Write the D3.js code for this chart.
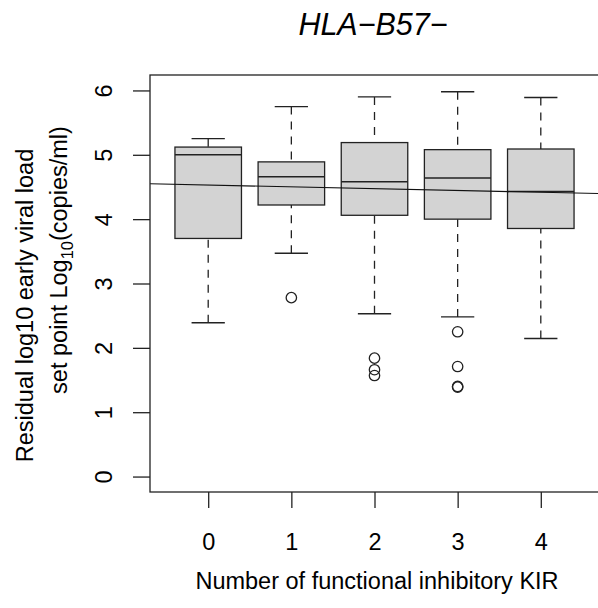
<!DOCTYPE html>
<html>
<head>
<meta charset="utf-8">
<script src="https://cdn.jsdelivr.net/npm/d3@7"></script>
<style>
  html, body { margin: 0; padding: 0; background: #fff; }
  svg { display: block; font-family: "Liberation Sans", Arial, Helvetica, sans-serif; }
</style>
</head>
<body>
<svg id="chart" width="598" height="608"></svg>
<script>
// ---- data ----
const categories = [0, 1, 2, 3, 4];
const whiskerLow  = [2.39, 3.47, 2.53, 2.48, 2.145];
const q1          = [3.70, 4.22, 4.06, 4.00, 3.855];
const medians     = [5.00, 4.66, 4.58, 4.64, 4.43];
const q3          = [5.12, 4.89, 5.19, 5.08, 5.09];
const whiskerHigh = [5.25, 5.75, 5.90, 5.98, 5.89];
const outliers    = [[], [2.78], [1.84, 1.66, 1.57], [2.25, 1.71, 1.40, 1.39], []];
const fitIntercept = 4.53;
const fitSlope = -0.028;
const yTicks = [0, 1, 2, 3, 4, 5, 6];
const titleText = "HLA\u2212B57\u2212";
const xLabel = "Number of functional inhibitory KIR";
const yLabel1 = "Residual log10 early viral load";

// ---- layout ----
const svg = d3.select("#chart");
const L = 150, R = 599, T = 75, B = 492;
const x = d3.scaleLinear().domain([-0.7, 4.7]).range([L, R]);
const y = d3.scaleLinear().domain([-0.24, 6.24]).range([B, T]);
const ink = "#222";
const fs = 23.5;

svg.append("defs").append("clipPath").attr("id", "plotclip")
  .append("rect").attr("x", L).attr("y", T).attr("width", R - L).attr("height", B - T);

const boxes = categories.map((c, i) => ({
  c, lo: whiskerLow[i], q1: q1[i], med: medians[i], q3: q3[i], hi: whiskerHigh[i], out: outliers[i]
}));

const g = svg.append("g");
const bw = 0.4, cw = 0.2;

// whiskers (dashed), from whisker end to hinge
g.selectAll(".wl").data(boxes).join("line")
  .attr("x1", d => x(d.c)).attr("x2", d => x(d.c))
  .attr("y1", d => y(d.lo)).attr("y2", d => y(d.q1))
  .attr("stroke", ink).attr("stroke-width", 1.3).attr("stroke-dasharray", "8,7");
g.selectAll(".wh").data(boxes).join("line")
  .attr("x1", d => x(d.c)).attr("x2", d => x(d.c))
  .attr("y1", d => y(d.hi)).attr("y2", d => y(d.q3))
  .attr("stroke", ink).attr("stroke-width", 1.3).attr("stroke-dasharray", "8,7");
// caps
g.selectAll(".cl").data(boxes).join("line")
  .attr("x1", d => x(d.c - cw)).attr("x2", d => x(d.c + cw))
  .attr("y1", d => y(d.lo)).attr("y2", d => y(d.lo))
  .attr("stroke", ink).attr("stroke-width", 1.3);
g.selectAll(".ch").data(boxes).join("line")
  .attr("x1", d => x(d.c - cw)).attr("x2", d => x(d.c + cw))
  .attr("y1", d => y(d.hi)).attr("y2", d => y(d.hi))
  .attr("stroke", ink).attr("stroke-width", 1.3);
// boxes
g.selectAll(".box").data(boxes).join("rect")
  .attr("x", d => x(d.c - bw)).attr("width", d => x(d.c + bw) - x(d.c - bw))
  .attr("y", d => y(d.q3)).attr("height", d => y(d.q1) - y(d.q3))
  .attr("fill", "#d3d3d3").attr("stroke", ink).attr("stroke-width", 1.3);
// medians
g.selectAll(".med").data(boxes).join("line")
  .attr("x1", d => x(d.c - bw)).attr("x2", d => x(d.c + bw))
  .attr("y1", d => y(d.med)).attr("y2", d => y(d.med))
  .attr("stroke", ink).attr("stroke-width", 1.5);
// outliers
const outPts = boxes.flatMap(d => d.out.map(v => ({ c: d.c, v })));
g.selectAll(".out").data(outPts).join("circle")
  .attr("cx", d => x(d.c)).attr("cy", d => y(d.v)).attr("r", 5.2)
  .attr("fill", "none").attr("stroke", ink).attr("stroke-width", 1.3);

// regression line (abline, clipped)
const xd = x.domain();
svg.append("line").attr("clip-path", "url(#plotclip)")
  .attr("x1", x(xd[0])).attr("y1", y(fitIntercept + fitSlope * xd[0]))
  .attr("x2", x(xd[1])).attr("y2", y(fitIntercept + fitSlope * xd[1]))
  .attr("stroke", "#111").attr("stroke-width", 1.1);

// frame
svg.append("rect").attr("x", L).attr("y", T).attr("width", R - L).attr("height", B - T)
  .attr("fill", "none").attr("stroke", ink).attr("stroke-width", 1.3);

// x axis
const xAxis = svg.append("g").attr("transform", `translate(0,${B})`)
  .call(d3.axisBottom(x).tickValues(categories).tickSize(16).tickFormat(d3.format("d")));
xAxis.select(".domain").remove();
xAxis.selectAll(".tick line").attr("stroke", ink).attr("stroke-width", 1.3);
xAxis.selectAll(".tick text").attr("y", 58).attr("dy", null)
  .attr("fill", "#000").style("font-size", fs + "px").style("font-family", "'Liberation Sans', Arial, sans-serif");

// y axis
const yAxis = svg.append("g").attr("transform", `translate(${L},0)`)
  .call(d3.axisLeft(y).tickValues(yTicks).tickSize(17).tickFormat(d3.format("d")));
yAxis.select(".domain").remove();
yAxis.selectAll(".tick line").attr("stroke", ink).attr("stroke-width", 1.3);
yAxis.selectAll(".tick text")
  .attr("x", null).attr("dy", null).attr("y", null)
  .attr("text-anchor", "middle")
  .attr("transform", "translate(-38,0) rotate(-90)")
  .attr("fill", "#000").style("font-size", fs + "px").style("font-family", "'Liberation Sans', Arial, sans-serif");

// title
svg.append("text").attr("x", 373).attr("y", 35).attr("text-anchor", "middle")
  .style("font-size", "30.5px").style("font-style", "italic").attr("fill", "#000")
  .text(titleText);

// x label
svg.append("text").attr("x", 377).attr("y", 589).attr("text-anchor", "middle")
  .style("font-size", fs + "px").attr("fill", "#000").text(xLabel);

// y label line 1
svg.append("text").attr("transform", "translate(33,305.5) rotate(-90)")
  .attr("text-anchor", "middle").style("font-size", fs + "px").attr("fill", "#000")
  .text(yLabel1);
// y label line 2 with subscript
const t2 = svg.append("text").attr("transform", "translate(67,260) rotate(-90)")
  .attr("text-anchor", "middle").style("font-size", fs + "px").attr("fill", "#000");
t2.append("tspan").text("set point Log");
t2.append("tspan").attr("dy", 6).style("font-size", (fs * 0.7) + "px").text("10");
t2.append("tspan").attr("dy", -6).text("(copies/ml)");
</script>
</body>
</html>
